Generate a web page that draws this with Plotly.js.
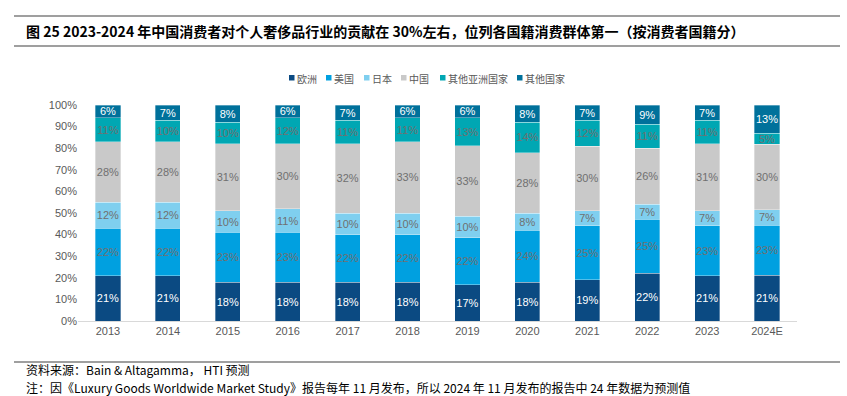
<!DOCTYPE html>
<html><head><meta charset="utf-8">
<script src="https://cdn.plot.ly/plotly-3.0.1.min.js"></script>
<style>html,body{margin:0;padding:0;background:#fff}#c{width:847px;height:396px}</style>
</head><body><div id="c"></div>
<script>
const years = ['2013','2014','2015','2016','2017','2018','2019','2020','2021','2022','2023','2024E'];
const europe   = [21,21,18,18,18,18,17,18,19,22,21,21];
const usa      = [22,22,23,23,22,22,22,24,25,25,23,23];
const japan    = [12,12,10,11,10,10,10,8,7,7,7,7];
const china    = [28,28,31,30,32,33,33,28,30,26,31,30];
const otherAsia= [11,10,10,12,11,11,13,14,12,11,11,5];
const others   = [6,7,8,6,7,6,6,8,7,9,7,13];
const seriesNames = ['欧洲','美国','日本','中国','其他亚洲国家','其他国家'];

const seriesData = [europe,usa,japan,china,otherAsia,others];
const colors = ['#0b4a82','#00a0e0','#7fcfef','#c9c9c9','#00a7b3','#00719b'];
const textColors = ['#ffffff','#707070','#707070','#707070','#707070','#ffffff'];
const FONT = '"Liberation Sans", Arial, "Noto Sans CJK SC", sans-serif';
const CJK = '"Noto Sans CJK SC", "Liberation Sans", sans-serif';

const traces = seriesData.map((d,i)=>({
  type:'bar', name:seriesNames[i], x:years, y:d,
  text:d.map(v=>v+'%'), textposition:'inside', insidetextanchor:'middle',
  textangle:0, constraintext:'none',
  textfont:{family:FONT,size:11,color:textColors[i]},
  marker:{color:colors[i],line:{color:'rgba(255,255,255,0.55)',width:0.6}},
  hoverinfo:'skip', showlegend:false
}));

const px = x => (x-78)/719;
const py = y => (321-y)/216;

// manual legend (positions in pixels)
const legendX = [289,326,364,401,440,517];
const shapes = [
  {type:'line',xref:'paper',yref:'paper',x0:px(14),x1:px(840),y0:py(16),y1:py(16),line:{color:'#404040',width:1.2}},
  {type:'line',xref:'paper',yref:'paper',x0:px(14),x1:px(840),y0:py(46),y1:py(46),line:{color:'#404040',width:1.2}},
  {type:'line',xref:'paper',yref:'paper',x0:px(14),x1:px(840),y0:py(362),y1:py(362),line:{color:'#404040',width:1.2}}
];
const annotations = [
  {xref:'paper',yref:'paper',x:px(24),y:py(31),xanchor:'left',yanchor:'middle',showarrow:false,
   text:'<b>图 25 2023-2024 年中国消费者对个人奢侈品行业的贡献在 30%左右，位列各国籍消费群体第一（按消费者国籍分）</b>',
   font:{family:CJK,size:14,color:'#000'}},
  {xref:'paper',yref:'paper',x:px(24),y:py(369),xanchor:'left',yanchor:'middle',showarrow:false,
   text:'资料来源：Bain &amp; Altagamma， HTI 预测', font:{family:CJK,size:12,color:'#000'}},
  {xref:'paper',yref:'paper',x:px(24),y:py(387),xanchor:'left',yanchor:'middle',showarrow:false,
   text:'注：因《Luxury Goods Worldwide Market Study》报告每年 11 月发布，所以 2024 年 11 月发布的报告中 24 年数据为预测值', font:{family:CJK,size:12,color:'#000'}}
];
seriesNames.forEach((n,i)=>{
  const x0 = legendX[i];
  shapes.push({type:'rect',xref:'paper',yref:'paper',x0:px(x0),x1:px(x0+5.5),y0:py(80.5),y1:py(75),
    fillcolor:colors[i],line:{width:0}});
  annotations.push({xref:'paper',yref:'paper',x:px(x0+6),y:py(78),xanchor:'left',yanchor:'middle',showarrow:false,
    text:n,font:{family:CJK,size:10,color:'#595959'}});
});

const layout = {
  width:847, height:396,
  margin:{l:78,r:50,t:105,b:75},
  barmode:'stack', barnorm:'percent', bargap:0.58,
  paper_bgcolor:'#fff', plot_bgcolor:'#fff',
  showlegend:false,
  xaxis:{type:'category', showgrid:false, showline:true, linecolor:'#d9d9d9', linewidth:1,
    ticks:'', tickfont:{family:FONT,size:11,color:'#595959'}, zeroline:false},
  yaxis:{range:[0,100], dtick:10, ticksuffix:'%', showgrid:false, showline:false, zeroline:false,
    ticks:'', tickfont:{family:FONT,size:11,color:'#595959'}},
  font:{family:FONT},
  shapes:shapes,
  annotations:annotations
};
Plotly.newPlot('c',traces,layout,{displayModeBar:false,staticPlot:true});
</script></body></html>
